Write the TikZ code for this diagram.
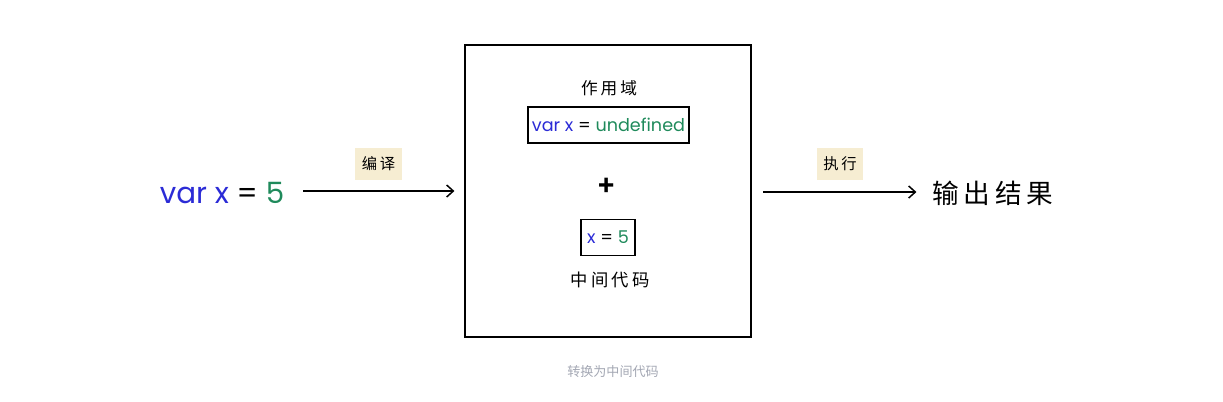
\documentclass[tikz,border=0pt]{standalone}
\usepackage{fontspec}
\setmainfont{Noto Sans CJK SC}
\newfontfamily\cjk{Noto Sans CJK SC}
\newfontfamily\cjkwide{Noto Sans CJK SC}[LetterSpace=18]
\newfontfamily\code{Poppins}
\usepackage{xcolor}
\usetikzlibrary{positioning, arrows.meta, calc}
\definecolor{kwblue}{HTML}{2B2BD6}
\definecolor{valgreen}{HTML}{1F8A5B}
\definecolor{tagfill}{HTML}{F6EDD2}
\definecolor{capgrey}{HTML}{A3A7B3}

\begin{document}
\begin{tikzpicture}[x=0.75pt, y=-0.75pt, line width=0.9pt]
	\tikzset{arrow/.style={-{Straight Barb[length=5pt, width=9pt]}, line width=1.1pt}}
	\tikzset{tag/.style={fill=tagfill, inner sep=3pt, minimum width=35pt, minimum height=24pt, font=\cjkwide\fontsize{11.5}{13}\selectfont}}
	\tikzset{codebox/.style={draw, line width=0.9pt, inner sep=3pt, minimum height=27pt, font=\code\fontsize{13.2}{15}\selectfont}}
	\tikzset{note/.style={font=\cjkwide\fontsize{12.5}{14}\selectfont}}
	\useasboundingbox (0,0) rectangle (1223,401);

	% left and right texts
	\node (src) [font=\code\fontsize{22}{24}\selectfont] at (222,193) {\textcolor{kwblue}{var x} = \textcolor{valgreen}{5}};
	\node (out) [font=\cjkwide\fontsize{20}{24}\selectfont] at (993,193) {输出结果};

	% the big box
	\node (scope) [draw, minimum width=214.5pt, minimum height=219pt, inner sep=0pt] at (608,191) {};
	\node (title) [note] at (609,88) {作用域};
	\node (decl) [codebox, minimum width=120.5pt] at (608.5,125) {\textcolor{kwblue}{var x} = \textcolor{valgreen}{undefined}};
	\node (plus) [font=\fontsize{20}{22}\selectfont\bfseries] at (607,187) {+};
	\node (assign) [codebox, minimum width=40.5pt] at (608,237.5) {\textcolor{kwblue}{x} = \textcolor{valgreen}{5}};
	\node (mid) [note, font=\cjkwide\fontsize{13}{15}\selectfont] at (610,280) {中间代码};

	% connectors
	\coordinate (a1) at (303,191);
	\coordinate (a2) at (763,192);
	\draw [arrow, shorten >=7.5pt] (a1) -- (scope.west |- a1);
	\draw [arrow] (a2) -- ($(out.west |- a2)+(-11,0)$);
	\node (compile) [tag] at (378.5,164) {编译};
	\node (run) [tag] at (840,164) {执行};

	\node (caption) [font=\cjk\fontsize{9.8}{12}\selectfont, text=capgrey] at (613,372) {转换为中间代码};
\end{tikzpicture}
\end{document}
